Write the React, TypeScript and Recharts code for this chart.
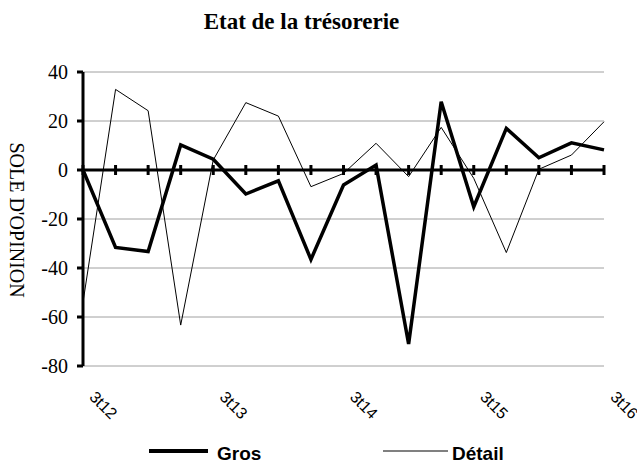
import { LineChart, Line, XAxis, YAxis, CartesianGrid, ReferenceLine, ReferenceDot } from "recharts";

const categories = [
  "3t12", "4t12", "1t13", "2t13", "3t13", "4t13", "1t14", "2t14", "3t14",
  "4t14", "1t15", "2t15", "3t15", "4t15", "1t16", "2t16", "3t16",
];
const gros = [0, -31.6, -33.3, 10.2, 4.4, -9.8, -4.4, -36.5, -6.1, 2.0, -71, 27.9, -15, 17, 5, 11.1, 8.2];
const detail = [-54, 32.9, 24.2, -63.3, 4.1, 27.5, 22, -6.8, -1.4, 10.9, -2.7, 17.4, -3.4, -33.7, 0.3, 6.1, 19.7];
const yTicks = [-80, -60, -40, -20, 0, 20, 40];

const data = categories.map((cat, i) => ({ cat, gros: gros[i], detail: detail[i] }));

const serif = "'Liberation Serif', 'Times New Roman', serif";
const sans = "'Liberation Sans', Arial, sans-serif";

const XTick = ({ x, y, payload }: any) => (
  <text
    x={x + 5.5}
    y={y + 32}
    transform={`rotate(45 ${x + 5.5} ${y + 32})`}
    textAnchor="start"
    fontFamily={sans}
    fontSize={16}
    fill="#000"
  >
    {payload.value}
  </text>
);

// small vertical marks crossing the zero line at each category
const ZeroTick = (props: any) => (
  <line x1={props.cx} x2={props.cx} y1={props.cy - 5} y2={props.cy + 5} stroke="#000" strokeWidth={3} />
);

const YLabel = () => (
  <text
    x={17}
    y={220}
    transform="rotate(90 17 220)"
    textAnchor="middle"
    dominantBaseline="central"
    fontFamily={serif}
    fontSize={20}
    fill="#000"
  >
    SOLE D'OPINION
  </text>
);

export default function App() {
  return (
    <div style={{ position: "absolute", left: 0, top: 0, width: 637, height: 463, background: "#fff", overflow: "hidden" }}>
      <div
        style={{
          position: "absolute",
          left: 0,
          top: 10,
          width: 603,
          textAlign: "center",
          fontFamily: serif,
          fontWeight: "bold",
          fontSize: 23,
          lineHeight: "23px",
        }}
      >
        Etat de la trésorerie
      </div>
      <LineChart width={637} height={463} data={data} margin={{ top: 72, right: 33, bottom: 37, left: 0 }}>
        <CartesianGrid vertical={false} stroke="#a0a0a0" />
        <XAxis
          dataKey="cat"
          interval={3}
          axisLine={false}
          tickLine={false}
          tickSize={0}
          tickMargin={0}
          height={60}
          tick={<XTick />}
        />
        <YAxis
          domain={[-80, 40]}
          ticks={yTicks}
          width={83}
          axisLine={{ stroke: "#000", strokeWidth: 3 }}
          tickLine={{ stroke: "#000", strokeWidth: 3 }}
          tickSize={6}
          tickMargin={9}
          tick={{ fontFamily: serif, fontSize: 20, fill: "#000" }}
          label={{ content: () => <YLabel /> }}
        />
        <ReferenceLine y={0} stroke="#000" strokeWidth={3} />
        {categories.map((c) => (
          <ReferenceDot key={c} x={c} y={0} shape={<ZeroTick />} />
        ))}
        <Line dataKey="detail" stroke="#000" strokeWidth={1} dot={false} activeDot={false} isAnimationActive={false} />
        <Line dataKey="gros" stroke="#000" strokeWidth={3.5} dot={false} activeDot={false} isAnimationActive={false} />
      </LineChart>
      <div style={{ position: "absolute", left: 149, top: 449, width: 59, height: 4, background: "#000" }} />
      <div
        style={{
          position: "absolute",
          left: 217,
          top: 443,
          fontFamily: sans,
          fontWeight: "bold",
          fontSize: 19,
          lineHeight: "22px",
        }}
      >
        Gros
      </div>
      <div style={{ position: "absolute", left: 383, top: 450, width: 65, height: 2, background: "#808080" }} />
      <div
        style={{
          position: "absolute",
          left: 452,
          top: 443,
          fontFamily: sans,
          fontWeight: "bold",
          fontSize: 19,
          lineHeight: "22px",
        }}
      >
        Détail
      </div>
    </div>
  );
}
